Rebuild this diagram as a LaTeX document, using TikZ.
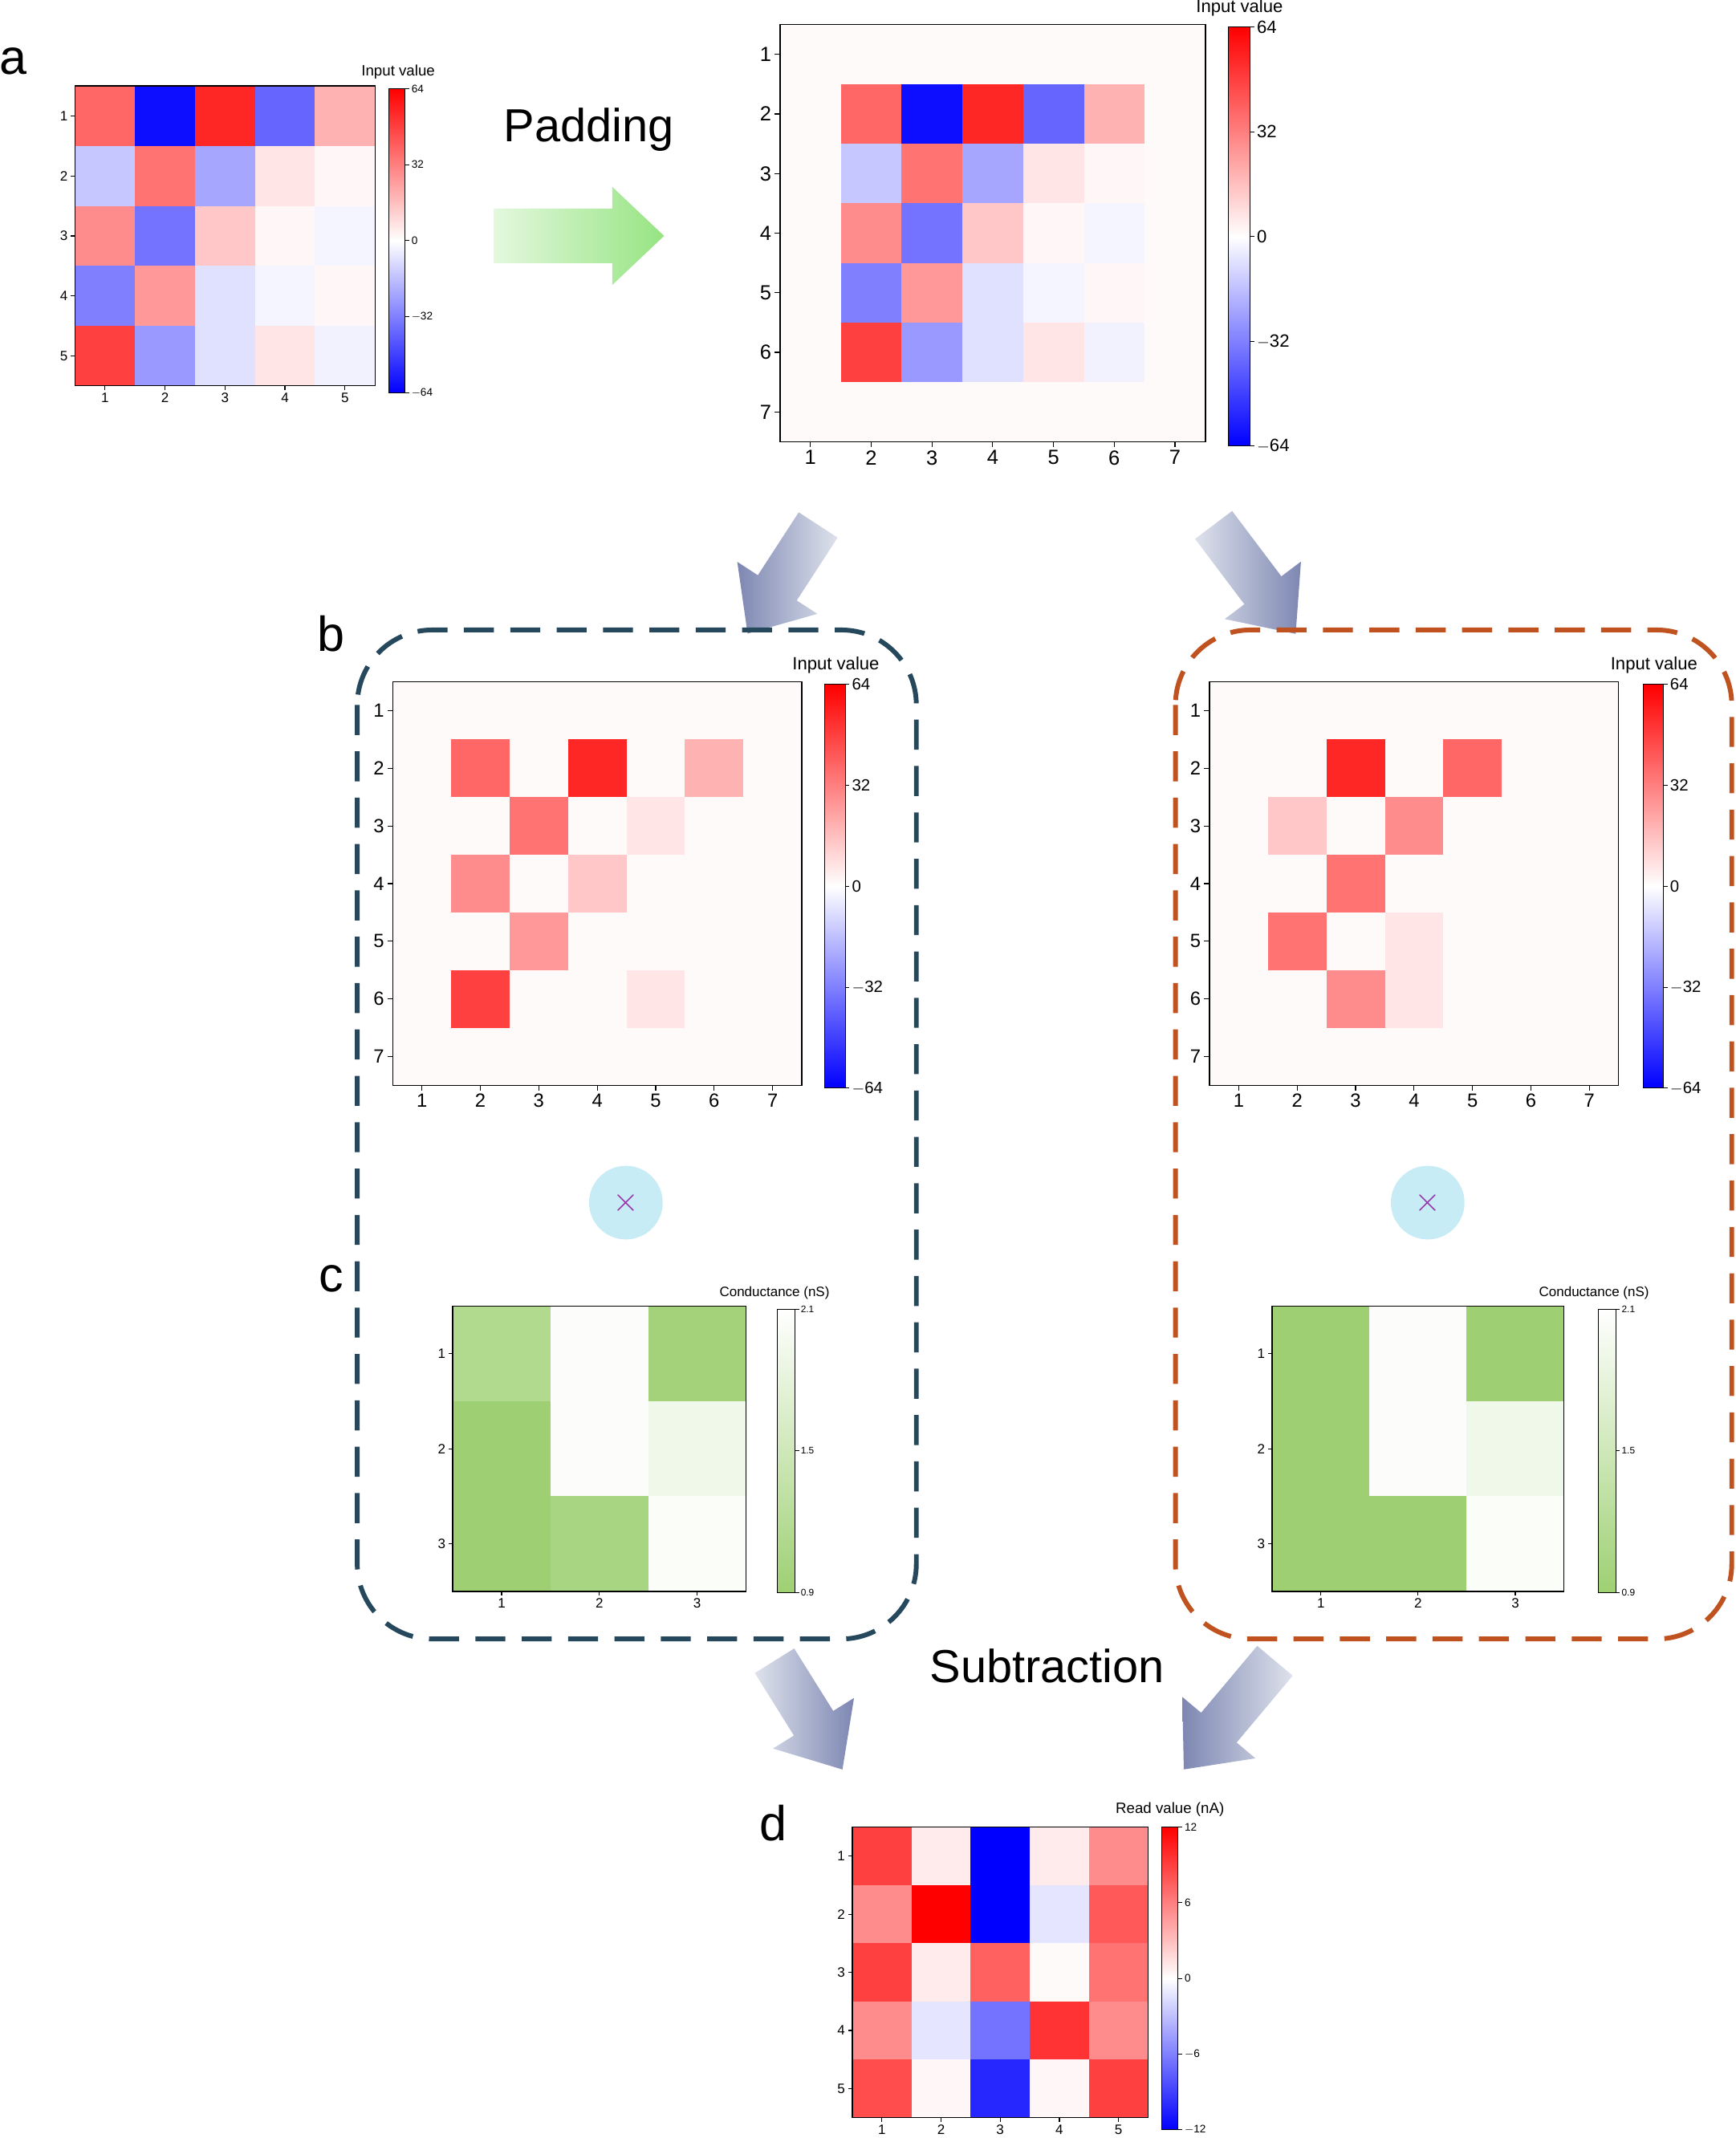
\documentclass[tikz,border=0pt]{standalone}
\usepackage{fontspec}
\setmainfont{Liberation Sans}
\definecolor{gg}{RGB}{158,208,115}
\definecolor{boxa}{RGB}{38,72,92}
\definecolor{boxb}{RGB}{192,82,32}
\definecolor{arrd}{RGB}{125,135,178}
\definecolor{arrl}{RGB}{222,226,236}
\definecolor{grd}{RGB}{150,228,130}
\definecolor{grl}{RGB}{228,248,222}
\newcommand\fsz[1]{\fontsize{#1}{#1}\selectfont}
% heat map bwr: x0,y0,ncols,cw,ch,list (percent)
\newcommand\hmap[6]{%
 \foreach \v [count=\i from 0] in {#6}{%
   \pgfmathtruncatemacro\cc{mod(\i,#3)}\pgfmathtruncatemacro\rr{div(\i,#3)}%
   \ifdim\v pt<0pt \pgfmathtruncatemacro\pp{-\v}\def\fc{blue!\pp!white}\else\def\fc{red!\v!white}\fi
   \fill[\fc] ({#1+\cc*#4},{#2+\rr*#5}) rectangle ++(#4,#5);}}
\newcommand\gmap[6]{%
 \foreach \v [count=\i from 0] in {#6}{%
   \pgfmathtruncatemacro\cc{mod(\i,#3)}\pgfmathtruncatemacro\rr{div(\i,#3)}%
   \fill[gg!\v!white] ({#1+\cc*#4},{#2+\rr*#5}) rectangle ++(#4,#5);}}
% axes: x0,y0,n,cw,ch,fontsize,ticklen
\newcommand\haxes[7]{%
 \draw[line width=0.8pt] (#1,#2) rectangle ++({#3*#4},{#3*#5});
 \foreach \k in {1,...,#3}{%
   \draw[line width=0.7pt] ({#1},{#2+(\k-0.5)*#5}) -- ++(-#7,0) node[left,inner sep=2pt,font=\fsz{#6}]{\k};
   \draw[line width=0.7pt] ({#1+(\k-0.5)*#4},{#2+#3*#5}) -- ++(0,#7) node[below,inner sep=2pt,font=\fsz{#6}]{\k};}}
% colorbar bwr: x,y,w,h
\newcommand\cbar[4]{%
 \shade[top color=red,bottom color=white] (#1,#2) rectangle ++(#3,{#4/2});
 \shade[top color=white,bottom color=blue] (#1,{#2+#4/2}) rectangle ++(#3,{#4/2});
 \draw[line width=0.6pt] (#1,#2) rectangle ++(#3,#4);}
\newcommand\cticks[6]{% x,y,w,h,fontsize,labels(5)
 \foreach \t [count=\j from 0] in {#6}{%
  \draw[line width=0.6pt] ({#1+#3},{#2+\j*#4/4}) -- ++(3,0) node[right,inner sep=1.5pt,font=\fsz{#5}]{\t};}}
\newcommand\fat[8]{% x,y,angle,len,half body,half head,head len,colors
 \begin{scope}[shift={(#1,#2)},rotate=#3]
  \shade[#8] (0,-#5) -- ({#4-#7},-#5) -- ({#4-#7},-#6) -- (#4,0) -- ({#4-#7},#6) -- ({#4-#7},#5) -- (0,#5) -- cycle;
 \end{scope}}
\begin{document}
\begin{tikzpicture}[x=1pt,y=-1pt]
\useasboundingbox (0,0) rectangle (1273,1568);
\fill[white] (0,0) rectangle (1273,1568);
% ---------- panel a
\node[font=\fsz{36}] (la) at (10,45) {a};
\hmap{55}{63}{5}{44}{44}{60,-95,85,-60,30, -22,55,-35,10,3, 45,-55,22,3,-4, -50,40,-12,-4,3, 75,-40,-12,10,-5}
\haxes{55}{63}{5}{44}{44}{10}{3}
\cbar{285}{65}{12}{223}
\cticks{285}{65}{12}{223}{8}{64,32,0,$-$32,$-$64}
\node[font=\fsz{11}] (ta) at (292,53) {Input value};
% padding arrow
\node[font=\fsz{34}] (pad) at (432,95) {Padding};
\fat{362}{173}{0}{125}{20}{36}{38}{left color=grl,right color=grd}
% top-right
\fill[red!2] (572,18) rectangle (884,324);
\hmap{616.6}{61.7}{5}{44.6}{43.7}{60,-95,85,-60,30, -22,55,-35,10,3, 45,-55,22,3,-4, -50,40,-12,-4,3, 75,-40,-12,10,-5}
\haxes{572}{18}{7}{44.57}{43.71}{15}{4}
\cbar{901}{20}{16}{307}
\cticks{901}{20}{16}{307}{13}{64,32,0,$-$32,$-$64}
\node[font=\fsz{13}] (tb) at (909,6) {Input value};
% gray arrows
\fat{600}{385}{237}{95}{17}{35}{40}{left color=arrd,right color=arrl}
\fat{890}{385}{-53}{100}{17}{35}{40}{left color=arrl,right color=arrd}
% dashed boxes
\draw[boxa,line width=3.5pt,dash pattern=on 22pt off 12pt,rounded corners=55pt] (262,462) rectangle (672,1202);
\draw[boxb,line width=3.5pt,dash pattern=on 22pt off 12pt,rounded corners=55pt] (862,462) rectangle (1270,1202);
\node[font=\fsz{36}] (lb) at (243,465) {b};
\node[font=\fsz{36}] (lc) at (243,938) {c};
% b left
\fill[red!2] (288,500) rectangle (588,796);
\hmap{330.9}{542.3}{5}{42.86}{42.29}{60,2,85,2,30, 2,55,2,10,2, 45,2,22,2,2, 2,40,2,2,2, 75,2,2,10,2}
\haxes{288}{500}{7}{42.86}{42.29}{14}{4}
\cbar{605}{502}{15}{296}
\cticks{605}{502}{15}{296}{12}{64,32,0,$-$32,$-$64}
\node[font=\fsz{13}] (tbl) at (613,488) {Input value};
% b right
\fill[red!2] (887,500) rectangle (1187,796);
\hmap{929.9}{542.3}{5}{42.86}{42.29}{2,85,2,60,2, 22,2,45,2,2, 2,55,2,2,2, 55,2,10,2,2, 2,45,10,2,2}
\haxes{887}{500}{7}{42.86}{42.29}{14}{4}
\cbar{1205}{502}{15}{296}
\cticks{1205}{502}{15}{296}{12}{64,32,0,$-$32,$-$64}
\node[font=\fsz{13}] (tbr) at (1213,488) {Input value};
% multiply circles
\node[circle,fill={rgb,255:red,200;green,236;blue,246},minimum size=54pt,inner sep=0pt,text={rgb,255:red,150;green,50;blue,170},font=\fsz{34}] (m1) at (459,882) {$\times$};
\node[circle,fill={rgb,255:red,200;green,236;blue,246},minimum size=54pt,inner sep=0pt,text={rgb,255:red,150;green,50;blue,170},font=\fsz{34}] (m2) at (1047,882) {$\times$};
% c left
\gmap{332}{958}{3}{71.7}{69.7}{80,3,95, 100,3,15, 100,90,5}
\haxes{332}{958}{3}{71.7}{69.7}{10}{3}
\shade[top color=white,bottom color=gg] (570,960) rectangle (583,1168);
\draw[line width=0.6pt] (570,960) rectangle (583,1168);
\foreach \t/\yy in {2.1/960,1.5/1064,0.9/1168}{\draw[line width=0.6pt] (583,\yy) -- ++(3,0) node[right,inner sep=1pt,font=\fsz{7}]{\t};}
\node[font=\fsz{10}] (tcl) at (568,948) {Conductance (nS)};
% c right
\gmap{933}{958}{3}{71.3}{69.7}{100,3,100, 100,3,15, 100,100,5}
\haxes{933}{958}{3}{71.3}{69.7}{10}{3}
\shade[top color=white,bottom color=gg] (1172,960) rectangle (1185,1168);
\draw[line width=0.6pt] (1172,960) rectangle (1185,1168);
\foreach \t/\yy in {2.1/960,1.5/1064,0.9/1168}{\draw[line width=0.6pt] (1185,\yy) -- ++(3,0) node[right,inner sep=1pt,font=\fsz{7}]{\t};}
\node[font=\fsz{10}] (tcr) at (1169,948) {Conductance (nS)};
% subtraction
\node[font=\fsz{34}] (sub) at (768,1222) {Subtraction};
\fat{568}{1218}{-58}{94}{17}{35}{40}{left color=arrl,right color=arrd}
\fat{935}{1218}{230}{104}{17}{35}{40}{left color=arrd,right color=arrl}
% panel d
\node[font=\fsz{36}] (ld) at (567,1337) {d};
\hmap{625}{1340}{5}{43.4}{42.6}{75,8,-100,8,45, 45,100,-100,-10,65, 75,8,62,2,55, 45,-10,-55,80,45, 70,3,-85,3,75}
\haxes{625}{1340}{5}{43.4}{42.6}{10}{3}
\cbar{852}{1340}{12}{222}
\cticks{852}{1340}{12}{222}{8}{12,6,0,$-$6,$-$12}
\node[font=\fsz{11}] (td) at (858,1327) {Read value (nA)};
\end{tikzpicture}
\end{document}
